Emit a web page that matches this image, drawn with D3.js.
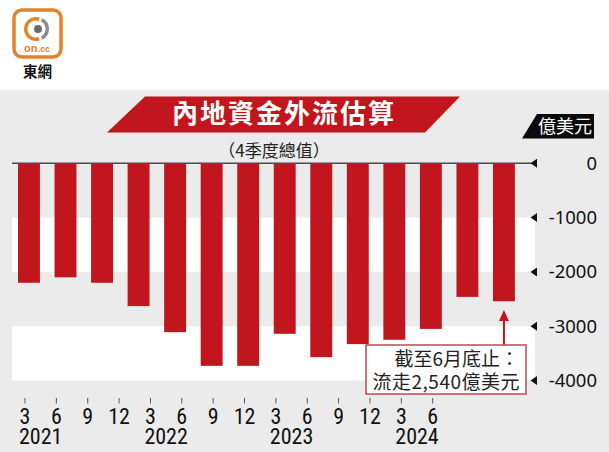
<!DOCTYPE html>
<html>
<head>
<meta charset="utf-8">
<script src="https://cdn.jsdelivr.net/npm/d3@7"></script>
<style>
  html, body { margin: 0; padding: 0; background: #fff; }
  svg { display: block; }
</style>
</head>
<body>
<div id="container"></div>
<script>
// quarterly outflow, 4-quarter total (100m USD)
const quarters = ["2021Q1","2021Q2","2021Q3","2021Q4","2022Q1","2022Q2","2022Q3","2022Q4",
                  "2023Q1","2023Q2","2023Q3","2023Q4","2024Q1","2024Q2"];
const values = [-2200, -2100, -2200, -2630, -3110, -3730, -3730, -3140,
                -3570, -3330, -3250, -3050, -2460, -2540];
const monthLabels = ["3","6","9","12","3","6","9","12","3","6","9","12","3","6"];
const yearLabels = ["2021","2022","2023","2024"];
const yTicks = [0, -1000, -2000, -3000, -4000];

const W = 609, H = 452;
const red = "#c1161e";
const panelGrey = "#ebebeb";
const cjk = "'Noto Sans CJK TC', 'Noto Sans CJK SC', sans-serif";
const numFont = "'Noto Sans', 'DejaVu Sans', sans-serif";
const narrow = "'Liberation Sans Narrow', 'Arial Narrow', 'Roboto Condensed', sans-serif";

const svg = d3.select("#container").append("svg")
  .attr("width", W).attr("height", H)
  .attr("viewBox", `0 0 ${W} ${H}`);

// grey panel behind the chart
svg.append("rect").attr("x", 0).attr("y", 90).attr("width", W).attr("height", H - 90)
  .attr("fill", panelGrey);

// scales
const x = d3.scaleBand().domain(quarters).range([10.7, 522.2]).paddingInner(0.4).paddingOuter(0.2);
const y = d3.scaleLinear().domain([0, -4000]).range([163.3, 380.5]);
// the month labels sit on their own, tighter spacing
const xAxis = d3.scaleLinear().domain([0, quarters.length - 1]).range([25, 432.7]);

const plotLeft = 12, plotRight = 535;

// alternating white bands
const bandPairs = [[-1000, -2000], [-3000, -4000]];
svg.append("g").selectAll("rect").data(bandPairs).join("rect")
  .attr("x", plotLeft).attr("width", plotRight - plotLeft)
  .attr("y", d => y(d[0])).attr("height", d => y(d[1]) - y(d[0]))
  .attr("fill", "#fff");

// bars
svg.append("g").selectAll("rect").data(values).join("rect")
  .attr("x", (d, i) => x(quarters[i]))
  .attr("width", x.bandwidth())
  .attr("y", y(0))
  .attr("height", d => y(d) - y(0))
  .attr("fill", red);

// zero line
svg.append("line").attr("x1", plotLeft).attr("x2", plotRight)
  .attr("y1", y(0)).attr("y2", y(0))
  .attr("stroke", "#4a4a4a").attr("stroke-width", 1.5);

// right axis: triangle markers + labels
const yAxisG = svg.append("g");
yAxisG.selectAll("path").data(yTicks).join("path")
  .attr("d", d => `M${530.5},${y(d)} L${537},${y(d) - 4.5} L${537},${y(d) + 4.5} Z`)
  .attr("fill", "#111");
yAxisG.selectAll("text").data(yTicks).join("text")
  .attr("x", 597).attr("y", d => y(d) + 6.5)
  .attr("text-anchor", "end")
  .attr("font-family", numFont).attr("font-size", 18.5)
  .attr("fill", "#111")
  .text(d => d === 0 ? "0" : "-" + Math.abs(d));

// bottom labels
const xg = svg.append("g");
xg.selectAll("line").data(monthLabels).join("line")
  .attr("x1", (d, i) => xAxis(i)).attr("x2", (d, i) => xAxis(i))
  .attr("y1", 398).attr("y2", 403.5)
  .attr("stroke", "#555").attr("stroke-width", 1);
xg.selectAll("text.month").data(monthLabels).join("text")
  .attr("class", "month")
  .attr("x", (d, i) => xAxis(i)).attr("y", 423.5)
  .attr("text-anchor", "middle")
  .attr("font-family", narrow).attr("font-size", 22)
  .attr("fill", "#111")
  .text(d => d);
xg.selectAll("text.year").data(yearLabels).join("text")
  .attr("class", "year")
  .attr("x", (d, i) => xAxis(i * 4 + 0.5)).attr("y", 443.5)
  .attr("text-anchor", "middle")
  .attr("font-family", narrow).attr("font-size", 22)
  .attr("fill", "#111")
  .text(d => d);

// title banner
svg.append("path")
  .attr("d", "M107,132.5 L145,96.5 L460,96.5 L425,132.5 Z")
  .attr("fill", red);
svg.append("text")
  .attr("x", 284).attr("y", 123)
  .attr("text-anchor", "middle")
  .attr("font-family", cjk).attr("font-weight", "bold").attr("font-size", 26)
  .attr("letter-spacing", 2)
  .attr("fill", "#fff")
  .text("內地資金外流估算");
svg.append("text")
  .attr("x", 274).attr("y", 157)
  .attr("text-anchor", "middle")
  .attr("font-family", cjk).attr("font-size", 17)
  .attr("fill", "#222")
  .text("（4季度總值）");

// unit badge
svg.append("path")
  .attr("d", "M522,138.5 L537,114 L594,114 L594,138.5 Z")
  .attr("fill", "#0a0a0a");
svg.append("text")
  .attr("x", 565).attr("y", 133)
  .attr("text-anchor", "middle")
  .attr("font-family", cjk).attr("font-size", 18)
  .attr("fill", "#fff")
  .text("億美元");

// annotation for last bar
const lastX = x(quarters[quarters.length - 1]) + x.bandwidth() / 2;
const boxTop = 345;
svg.append("line").attr("x1", lastX).attr("x2", lastX)
  .attr("y1", boxTop).attr("y2", 318)
  .attr("stroke", red).attr("stroke-width", 2);
svg.append("path")
  .attr("d", `M${lastX},${310} L${lastX - 5},${321} L${lastX + 5},${321} Z`)
  .attr("fill", red);
svg.append("rect").attr("x", 366).attr("y", boxTop).attr("width", 160).attr("height", 49)
  .attr("fill", "#fff").attr("stroke", "#c5474c").attr("stroke-width", 1.5);
svg.append("text")
  .attr("x", 519).attr("y", 366)
  .attr("text-anchor", "end")
  .attr("font-family", cjk).attr("font-size", 19)
  .attr("fill", "#222")
  .text("截至6月底止：");
svg.append("text")
  .attr("x", 520).attr("y", 389)
  .attr("text-anchor", "end")
  .attr("font-family", cjk).attr("font-size", 19)
  .attr("letter-spacing", 0.5)
  .attr("fill", "#222")
  .text("流走2,540億美元");

// logo
const logo = svg.append("g");
logo.append("rect").attr("x", 14).attr("y", 10).attr("width", 47).attr("height", 47)
  .attr("rx", 8).attr("fill", "#fff").attr("stroke", "#e8822a").attr("stroke-width", 3.5);
const arc = d3.arc().innerRadius(8.5).outerRadius(12);
logo.append("path").attr("transform", "translate(36,29)")
  .attr("d", arc({ startAngle: Math.PI * 0.9, endAngle: Math.PI * 2.1 }))
  .attr("fill", "#e8822a");
logo.append("path").attr("transform", "translate(37,29)")
  .attr("d", arc({ startAngle: Math.PI * 0.15, endAngle: Math.PI * 0.85 }))
  .attr("fill", "#8c8c8c");
logo.append("circle").attr("cx", 38).attr("cy", 29).attr("r", 4).attr("fill", "#6a6a6a");
logo.append("text").attr("x", 24).attr("y", 52)
  .attr("font-family", "'Liberation Sans', sans-serif").attr("font-weight", "bold")
  .attr("font-size", 11).attr("fill", "#e8822a")
  .text("on");
logo.append("text").attr("x", 38).attr("y", 52)
  .attr("font-family", "'Liberation Sans', sans-serif").attr("font-weight", "bold")
  .attr("font-size", 8.5).attr("fill", "#e8822a")
  .text(".cc");
logo.append("text").attr("x", 37.5).attr("y", 77)
  .attr("text-anchor", "middle")
  .attr("font-family", cjk).attr("font-weight", "bold").attr("font-size", 14.5)
  .attr("fill", "#111")
  .text("東網");
</script>
</body>
</html>
